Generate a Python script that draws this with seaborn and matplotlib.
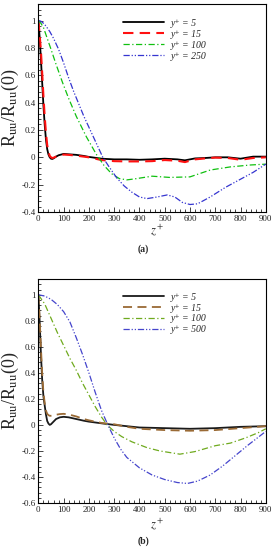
import numpy as np
import pandas as pd
import seaborn as sns
import matplotlib.pyplot as plt
from matplotlib.ticker import MultipleLocator

# ---- panel (a) data ----
za_near = [0, 5, 10, 15, 20, 25, 30, 35, 40, 45, 50, 55, 60, 70, 80, 100, 120, 150, 180, 200,
           250, 300, 350, 400, 450, 500, 550, 580, 620, 660, 700, 750, 800, 850, 900]
a_y5 = [1.0, 0.88, 0.72, 0.55, 0.38, 0.24, 0.13, 0.06, 0.02, 0.0, -0.01, -0.012, -0.008, 0.005, 0.015,
        0.025, 0.022, 0.018, 0.01, 0.003, -0.01, -0.015, -0.015, -0.018, -0.015, -0.01, -0.015, -0.022,
        -0.008, -0.005, 0.0, 0.0, -0.01, 0.005, 0.005]
a_y15 = [1.0, 0.9, 0.78, 0.62, 0.45, 0.3, 0.18, 0.09, 0.04, 0.01, 0.0, -0.005, -0.003, 0.005, 0.012,
         0.02, 0.018, 0.012, 0.005, 0.0, -0.02, -0.028, -0.03, -0.03, -0.028, -0.02, -0.025, -0.035,
         -0.015, -0.008, -0.002, -0.005, -0.018, -0.005, 0.0]
za_100 = [0, 10, 20, 35, 50, 70, 95, 120, 150, 190, 230, 260, 290, 320, 350, 380, 450, 520, 600,
          680, 760, 840, 900]
a_y100 = [1.0, 0.98, 0.95, 0.87, 0.79, 0.68, 0.55, 0.43, 0.30, 0.15, 0.02, -0.06, -0.12, -0.155,
          -0.165, -0.158, -0.138, -0.147, -0.143, -0.093, -0.07, -0.056, -0.05]
za_250 = [0, 10, 20, 30, 45, 60, 80, 100, 120, 140, 160, 180, 200, 230, 255, 280, 310, 340, 370,
          400, 430, 470, 510, 540, 570, 600, 630, 680, 740, 800, 850, 900]
a_y250 = [1.0, 0.995, 0.98, 0.96, 0.92, 0.87, 0.79, 0.69, 0.58, 0.48, 0.39, 0.30, 0.22, 0.10, 0.0,
          -0.07, -0.15, -0.21, -0.255, -0.29, -0.302, -0.29, -0.275, -0.29, -0.33, -0.345, -0.34,
          -0.29, -0.22, -0.16, -0.11, -0.05]

# ---- panel (b) data ----
zb_near = [0, 5, 10, 15, 20, 25, 30, 35, 40, 45, 50, 60, 70, 85, 100, 120, 150, 180, 200, 250, 300,
           350, 400, 500, 600, 700, 800, 900]
b_y5 = [1.0, 0.8, 0.55, 0.35, 0.22, 0.15, 0.08, 0.03, 0.01, 0.0, 0.005, 0.025, 0.045, 0.058, 0.062,
        0.058, 0.045, 0.032, 0.025, 0.012, 0.0, -0.01, -0.02, -0.025, -0.03, -0.025, -0.015, -0.01]
b_y15 = [1.0, 0.82, 0.6, 0.4, 0.25, 0.17, 0.11, 0.085, 0.075, 0.07, 0.07, 0.072, 0.078, 0.083, 0.085,
         0.08, 0.065, 0.045, 0.035, 0.015, 0.005, -0.015, -0.03, -0.04, -0.045, -0.04, -0.025, -0.01]
zb_100 = [0, 25, 50, 75, 100, 125, 150, 175, 200, 225, 250, 272, 300, 330, 370, 430, 480, 560, 620,
          700, 760, 820, 870, 900]
b_y100 = [1.0, 0.93, 0.82, 0.71, 0.61, 0.51, 0.42, 0.32, 0.23, 0.14, 0.06, 0.0, -0.05, -0.09, -0.13,
          -0.175, -0.20, -0.225, -0.205, -0.16, -0.14, -0.10, -0.06, -0.03]
zb_500 = [0, 25, 50, 75, 100, 125, 150, 175, 200, 225, 250, 275, 300, 325, 350, 400, 450, 500, 550,
          590, 630, 680, 730, 780, 830, 870, 900]
b_y500 = [1.0, 0.99, 0.965, 0.925, 0.87, 0.79, 0.67, 0.54, 0.40, 0.25, 0.11, 0.0, -0.10, -0.185,
          -0.25, -0.33, -0.385, -0.42, -0.443, -0.45, -0.432, -0.385, -0.315, -0.235, -0.155,
          -0.095, -0.05]

sns.set_theme(style="ticks")
plt.rcParams['font.family'] = ['Liberation Serif', 'DejaVu Serif']
plt.rcParams['mathtext.fontset'] = 'stix'

fig = plt.figure(figsize=(2.76, 5.5), dpi=100)

dd = (0, (5, 2, 1, 2))
ddd = (0, (5, 1.5, 1, 1.5, 1, 1.5))

panels = [
    dict(rect=[0.139, 0.6145, 0.824, 0.378], ylim=(-0.4, 1.12), tag='(a)', tag_y=0.538, xl_y=0.581,
         leg_y=0.93,
         series=[(za_near, a_y5, 'y\u207a = 5', '#000000', '-', 1.3),
                 (za_near, a_y15, 'y\u207a = 15', '#ff1010', (0, (5, 3)), 1.5),
                 (za_100, a_y100, 'y\u207a = 100', '#10c010', dd, 0.9),
                 (za_250, a_y250, 'y\u207a = 250', '#3535d0', ddd, 0.9)]),
    dict(rect=[0.139, 0.0855, 0.824, 0.407], ylim=(-0.6, 1.12), tag='(b)', tag_y=0.008, xl_y=0.047,
         leg_y=0.94,
         series=[(zb_near, b_y5, 'y\u207a = 5', '#1a1a1a', '-', 1.3),
                 (zb_near, b_y15, 'y\u207a = 15', '#9a6a35', (0, (5, 3)), 1.3),
                 (zb_100, b_y100, 'y\u207a = 100', '#6faa1e', dd, 0.9),
                 (zb_500, b_y500, 'y\u207a = 500', '#4545cc', ddd, 0.9)]),
]

for p in panels:
    ax = fig.add_axes(p['rect'])
    for z, v, lab, col, ls, lw in p['series']:
        df = pd.DataFrame({'z': z, 'R': v})
        sns.lineplot(data=df, x='z', y='R', ax=ax, color=col, linestyle=ls, linewidth=lw, label=lab)
    ax.set_xlim(0, 900)
    ax.set_ylim(*p['ylim'])
    ax.xaxis.set_major_locator(MultipleLocator(100))
    ax.xaxis.set_minor_locator(MultipleLocator(20))
    ax.yaxis.set_minor_locator(MultipleLocator(0.04))
    yt = np.arange(p['ylim'][0], 1.01, 0.2)
    ax.set_yticks(yt)
    ax.set_yticklabels(['%g' % round(t, 1) for t in yt])
    ax.tick_params(which='both', direction='in', labelsize=6.5, width=0.6, pad=2)
    ax.tick_params(which='major', length=3.5)
    ax.tick_params(which='minor', length=2)
    for s in ax.spines.values():
        s.set_linewidth(0.8)
        s.set_color('black')
    ax.set_xlabel('')
    ax.set_ylabel(r'R$_{\rm uu}$/R$_{\rm uu}$(0)', fontsize=13, labelpad=0)
    fig.text(0.57, p['xl_y'], r'$z^+$', fontsize=9, ha='center', va='center')
    fig.text(0.52, p['tag_y'], p['tag'], fontsize=7, fontweight='bold', ha='center', va='bottom')
    leg = ax.legend(loc='upper left', bbox_to_anchor=(0.37, p['leg_y']), frameon=False, fontsize=7,
                    handlelength=4.3, handletextpad=0.7, labelspacing=0.2, borderpad=0,
                    borderaxespad=0)
    for t in leg.get_texts():
        t.set_fontstyle('italic')

fig.savefig('out.png', dpi=100)
